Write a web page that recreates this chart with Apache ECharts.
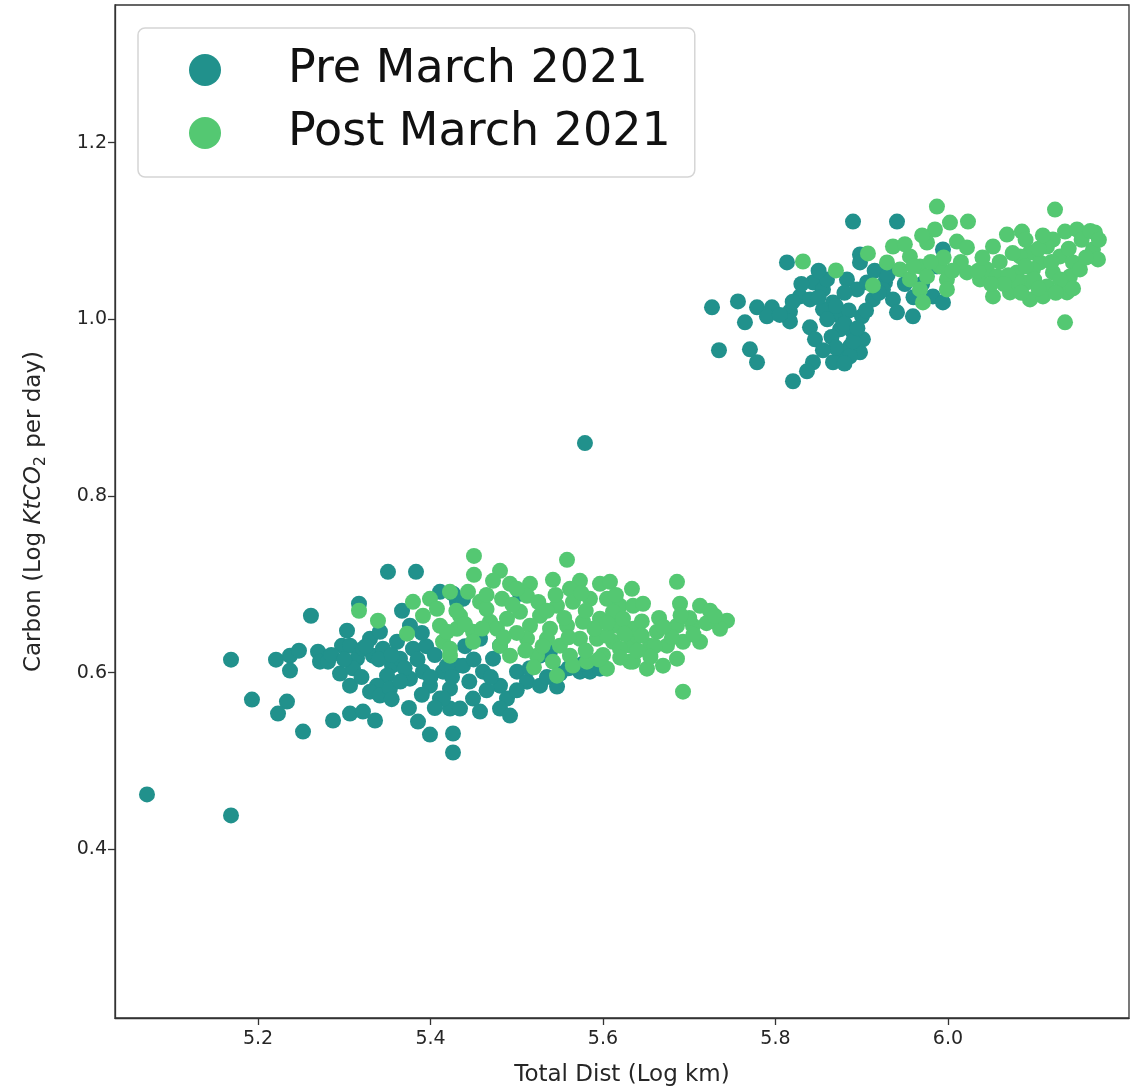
<!DOCTYPE html>
<html>
<head>
<meta charset="utf-8">
<script src="https://cdn.jsdelivr.net/npm/echarts@6/dist/echarts.min.js"></script>
<style>
  html, body { margin: 0; padding: 0; background: #fff; }
  #chart { width: 1138px; height: 1092px; }
</style>
</head>
<body>
<div id="chart"></div>
<script>
// Daily log distance travelled vs. log carbon emitted, split by period.
const seriesNames = ['Pre March 2021', 'Post March 2021'];
const xTicks = [5.2, 5.4, 5.6, 5.8, 6.0];
const yTicks = [0.4, 0.6, 0.8, 1.0, 1.2];

// [log km, log ktCO2 per day]
const preMarch = [
  [5.0713,0.4621],[5.1687,0.4384],[5.5791,0.8599],
  [5.1687,0.6147],[5.2209,0.6147],[5.2371,0.6192],[5.2475,0.6249],[5.2371,0.6023],
  [5.2696,0.6237],[5.2719,0.6124],[5.2812,0.6124],[5.3032,0.6475],[5.2974,0.6305],
  [5.3067,0.6305],[5.2951,0.5989],[5.3067,0.5853],[5.3148,0.6158],[5.3217,0.6271],
  [5.3299,0.6384],[5.3333,0.6192],[5.3414,0.6463],[5.3449,0.6271],[5.3554,0.6079],
  [5.3496,0.5966],[5.3380,0.5853],[5.3299,0.5785],[5.3414,0.5740],[5.3530,0.5819],
  [5.3646,0.6158],[5.3612,0.6350],[5.3670,0.6701],[5.3762,0.6531],[5.3797,0.6271],
  [5.3762,0.5932],[5.3913,0.6011],[5.3994,0.5853],[5.4110,0.5706],[5.4226,0.5819],
  [5.4145,0.6011],[5.4307,0.6079],[5.4226,0.5593],[5.1930,0.5695],[5.2336,0.5672],
  [5.2232,0.5537],[5.2522,0.5333],[5.2870,0.5458],[5.3067,0.5537],[5.3217,0.5559],
  [5.3357,0.5458],[5.3855,0.5446],[5.3994,0.5299],[5.4261,0.5311],[5.4261,0.5096],
  [5.4110,0.6915],[5.4307,0.6802],[5.3507,0.7141],[5.3832,0.7141],[5.2614,0.6644],
  [5.3171,0.6780],
  [5.5038,0.6893],[5.4261,0.6893],[5.4377,0.6836],[5.4191,0.6079],[5.4377,0.6079],
  [5.4609,0.6011],[5.4725,0.6158],[5.5003,0.6011],[5.5119,0.5898],[5.5270,0.5853],
  [5.5467,0.5842],[5.5733,0.6011],[5.5849,0.6011],[5.4806,0.5853],[5.4887,0.5706],
  [5.4493,0.5706],[5.4342,0.5593],[5.4145,0.5706],[5.4574,0.5559],[5.4806,0.5593],
  [5.4922,0.5514],[5.5501,0.5989],[5.5965,0.6045],[5.5768,0.6102],
  [5.4574,0.6384],[5.4806,0.6305],[5.5270,0.6192],[5.5386,0.6237],
  [5.3250,0.6300],[5.3400,0.6150],[5.3550,0.6200],[5.3700,0.6050],[5.3850,0.6150],
  [5.3950,0.6300],[5.3900,0.6450],[5.4050,0.6200],[5.4000,0.5950],[5.3650,0.5900],
  [5.3550,0.5700],[5.3900,0.5750],[5.4250,0.5950],[5.4450,0.5900],[5.4650,0.5800],
  [5.4500,0.6150],[5.4400,0.6300],[5.3100,0.6050],[5.2850,0.6200],[5.3000,0.6150],
  [5.3200,0.5950],[5.4050,0.5600],[5.3750,0.5600],[5.5150,0.6050],[5.5350,0.5950],
  [5.5600,0.6050],[5.4700,0.5950],[5.5000,0.5800],
  [5.8899,1.1107],[5.9409,1.1107],[5.8133,1.0644],[5.8980,1.0734],[5.8980,1.0644],
  [5.7264,1.0136],[5.7565,1.0203],[5.7646,0.9966],[5.7786,1.0136],[5.7959,1.0136],
  [5.7901,1.0034],[5.8168,1.0090],[5.8168,0.9977],[5.8284,1.0260],[5.8435,1.0418],
  [5.8400,1.0226],[5.8551,1.0339],[5.8597,1.0452],[5.8667,1.0192],[5.8632,1.0079],
  [5.8748,1.0034],[5.8829,1.0452],[5.8945,1.0339],[5.9061,1.0418],[5.9130,1.0226],
  [5.9270,1.0418],[5.9362,1.0226],[5.8400,0.9910],[5.8458,0.9774],[5.8748,0.9887],
  [5.8899,0.9853],[5.9014,0.9774],[5.8864,0.9695],[5.8980,0.9627],[5.8748,0.9582],
  [5.8667,0.9514],[5.8864,0.9582],[5.8435,0.9514],[5.8365,0.9412],[5.8203,0.9299],
  [5.7345,0.9650],[5.7704,0.9661],[5.7786,0.9514],[5.9003,1.0034],[5.8551,1.0113],
  [5.9942,1.0791],[5.9872,1.0599],[5.9293,1.0599],[5.9246,1.0339],[5.9409,1.0079],
  [5.9594,1.0034],[5.9826,1.0260],[5.9942,1.0192],
  [5.8500,1.0250],[5.8600,1.0000],[5.8700,1.0150],[5.8800,1.0300],[5.8850,1.0100],
  [5.8800,0.9950],[5.8650,0.9800],[5.8700,0.9680],[5.8900,0.9750],[5.8950,0.9900],
  [5.9050,1.0100],[5.9200,1.0300],[5.9150,1.0550],[5.9300,1.0500],[5.9500,1.0400],
  [5.9600,1.0250],[5.9700,1.0400],[5.8500,1.0550],[5.8300,1.0400],[5.8200,1.0200],
  [5.8050,1.0050],[5.8550,0.9650],[5.8800,0.9500]
];

const postMarch = [
  [5.3171,0.6701],[5.3391,0.6588],[5.3728,0.6441],[5.3797,0.6802],[5.3994,0.6836],
  [5.4226,0.6915],[5.3913,0.6644],[5.4110,0.6531],[5.4145,0.6350],[5.4226,0.6192],
  [5.4307,0.6497],[5.4075,0.6723],
  [5.4504,0.7322],[5.4504,0.7107],[5.4806,0.7153],[5.4725,0.7040],[5.4922,0.7006],
  [5.5154,0.7006],[5.5420,0.7051],[5.5583,0.7277],[5.5733,0.7040],[5.5617,0.6949],
  [5.5965,0.7006],[5.6081,0.7028],[5.6336,0.6949],[5.4435,0.6915],[5.4574,0.6802],
  [5.4829,0.6836],[5.5119,0.6870],[5.4342,0.6644],[5.4690,0.6576],[5.4887,0.6610],
  [5.5038,0.6689],[5.5270,0.6644],[5.5467,0.6757],[5.5652,0.6802],[5.5849,0.6836],
  [5.6046,0.6836],[5.6197,0.6757],[5.6348,0.6757],[5.4191,0.6463],[5.4493,0.6463],
  [5.4771,0.6497],[5.5154,0.6531],[5.5386,0.6497],[5.5583,0.6531],[5.5768,0.6576],
  [5.5965,0.6610],[5.6162,0.6531],[5.6348,0.6497],[5.4226,0.6271],[5.4493,0.6350],
  [5.4806,0.6305],[5.5119,0.6384],[5.5351,0.6384],[5.5501,0.6305],[5.5733,0.6384],
  [5.5930,0.6384],[5.6116,0.6350],[5.6313,0.6305],[5.4922,0.6192],[5.5235,0.6192],
  [5.5420,0.6124],[5.5617,0.6192],[5.5814,0.6124],[5.6046,0.6045],[5.6313,0.6124],
  [5.5467,0.5966],
  [5.6858,0.7028],[5.6464,0.6780],[5.6893,0.6780],[5.7125,0.6757],[5.7241,0.6701],
  [5.7438,0.6588],[5.7357,0.6497],[5.6116,0.6689],[5.6232,0.6610],[5.6046,0.6418],
  [5.6394,0.6418],[5.6626,0.6463],[5.6858,0.6531],[5.7043,0.6531],[5.7125,0.6350],
  [5.6928,0.6350],[5.6742,0.6305],[5.6545,0.6305],[5.6197,0.6271],[5.6348,0.6124],
  [5.6510,0.6045],[5.6696,0.6079],[5.6858,0.6158],[5.6928,0.5785],
  [5.4650,0.6720],[5.4950,0.6770],[5.5250,0.6800],[5.5350,0.6700],[5.5550,0.6620],
  [5.5800,0.6700],[5.5900,0.6500],[5.6050,0.6560],[5.6250,0.6440],[5.6450,0.6580],
  [5.6600,0.6300],[5.6650,0.6620],[5.6800,0.6400],[5.7000,0.6620],[5.7200,0.6560],
  [5.7050,0.6430],[5.6550,0.6180],[5.6400,0.6250],[5.6200,0.6170],[5.6000,0.6200],
  [5.5800,0.6250],[5.5600,0.6400],[5.5300,0.6300],[5.5100,0.6250],[5.5000,0.6450],
  [5.4850,0.6400],[5.4600,0.6500],[5.4400,0.6550],[5.4300,0.6700],[5.5200,0.6060],
  [5.5650,0.6080],[5.5950,0.6150],[5.6450,0.6420],[5.6700,0.6520],[5.6900,0.6650],
  [5.7300,0.6640],[5.6150,0.6880],[5.5750,0.6900],[5.5450,0.6880],[5.5000,0.6950],
  [5.4650,0.6880],
  [5.8319,1.0655],[5.8701,1.0554],[5.9072,1.0746],[5.9130,1.0384],[5.9362,1.0825],
  [5.9293,1.0644],
  [5.9872,1.1277],[6.0023,1.1096],[6.0232,1.1107],[5.9849,1.1017],[5.9757,1.0870],
  [6.0104,1.0881],[6.0220,1.0814],[5.9559,1.0712],[5.9675,1.0599],[5.9443,1.0565],
  [5.9559,1.0452],[5.9757,1.0486],[5.9907,1.0599],[5.9988,1.0452],[5.9675,1.0339],
  [5.9988,1.0339],[5.9710,1.0192],[6.0220,1.0531],[6.0371,1.0452],[6.0452,1.0565],
  [6.0568,1.0486],[6.0522,1.0825],[6.0684,1.0960],[6.0858,1.0994],[6.1241,1.1243],
  [6.1357,1.0994],[6.1496,1.1017],[6.1704,1.0983],[6.1681,1.0791],[6.1739,1.0678],
  [6.1217,1.0904],[6.1148,1.0825],[6.0951,1.0757],[6.0835,1.0712],[6.1067,1.0644],
  [6.1299,1.0712],[6.1449,1.0644],[6.0800,1.0531],[6.0986,1.0565],[6.1217,1.0531],
  [6.1414,1.0486],[6.0916,1.0418],[6.1148,1.0373],[6.1333,1.0373],[6.0522,1.0260],
  [6.0719,1.0305],[6.0951,1.0226],[6.1101,1.0260],[6.1380,1.0305],[6.1357,0.9966],
  [6.0800,1.0418],[6.1530,1.0565],
  [6.0600,1.0650],[6.0700,1.0500],[6.0750,1.0750],[6.0900,1.0600],[6.1000,1.0450],
  [6.1050,1.0800],[6.1200,1.0650],[6.1300,1.0450],[6.1400,1.0800],[6.1550,1.0900],
  [6.1600,1.0700],[6.1450,1.0350],[6.1250,1.0300],[6.1050,1.0350],[6.0850,1.0300],
  [6.0650,1.0400],[6.0500,1.0400],[6.0350,1.0550],[6.0150,1.0650],[6.0050,1.0550],
  [5.9950,1.0700],[5.9800,1.0650],[5.9600,1.0600],[5.9500,1.0850],[6.0400,1.0700],
  [6.1650,1.1000],[6.1750,1.0900],[6.1100,1.0950],[6.0900,1.0900],[5.9700,1.0950]
];

const colors = ['#21918c', '#54c872'];
const font = '"DejaVu Sans", sans-serif';

const chart = echarts.init(document.getElementById('chart'), null, { renderer: 'canvas' });
chart.setOption({
  animation: false,
  backgroundColor: '#fff',
  color: colors,
  grid: {
    left: 115, right: 9, top: 5, bottom: 59,
    show: true, borderColor: '#333', borderWidth: 1.3, backgroundColor: '#fff'
  },
  legend: {
    orient: 'vertical',
    left: 138, top: 28,
    data: seriesNames,
    icon: 'circle',
    itemWidth: 32, itemHeight: 32,
    itemGap: 13,
    padding: [17, 24, 19, 51],
    borderColor: '#d5d5d5', borderWidth: 1.5, borderRadius: 7,
    backgroundColor: '#fff',
    textStyle: { fontFamily: font, fontSize: 46, color: '#111', lineHeight: 50, padding: [0, 0, 0, 62] }
  },
  xAxis: {
    type: 'value',
    min: 5.0342, max: 6.2099,
    name: 'Total Dist (Log km)',
    nameLocation: 'middle', nameGap: 46,
    nameTextStyle: { fontFamily: font, fontSize: 23, color: '#262626' },
    splitLine: { show: false },
    axisLine: { lineStyle: { color: '#333', width: 1.3 } },
    axisTick: { length: 7, lineStyle: { color: '#333', width: 1.3 }, customValues: xTicks },
    axisLabel: {
      fontFamily: font, fontSize: 19, color: '#262626', margin: 12,
      customValues: xTicks,
      formatter: v => v.toFixed(1)
    }
  },
  yAxis: {
    type: 'value',
    min: 0.2090, max: 1.3559,
    name: '{a|Carbon (Log }{i|KtCO}{s|2}{a| per day)}',
    nameLocation: 'middle', nameGap: 66, nameRotate: 90,
    nameTextStyle: {
      fontFamily: font, fontSize: 23, color: '#262626',
      rich: {
        a: { fontFamily: font, fontSize: 23, color: '#262626', lineHeight: 30 },
        i: { fontFamily: font, fontSize: 23, fontStyle: 'italic', color: '#262626', lineHeight: 30 },
        s: { fontFamily: font, fontSize: 16, color: '#262626', lineHeight: 30, verticalAlign: 'bottom', padding: [0, 1, 0, 0] }
      }
    },
    splitLine: { show: false },
    axisLine: { lineStyle: { color: '#333', width: 1.3 } },
    axisTick: { length: 7, lineStyle: { color: '#333', width: 1.3 }, customValues: yTicks },
    axisLabel: {
      fontFamily: font, fontSize: 19, color: '#262626', margin: 8,
      customValues: yTicks,
      formatter: v => v.toFixed(1)
    }
  },
  series: [
    {
      name: seriesNames[0], type: 'scatter', data: preMarch,
      symbolSize: 16, itemStyle: { color: colors[0], opacity: 1 }, z: 2
    },
    {
      name: seriesNames[1], type: 'scatter', data: postMarch,
      symbolSize: 16, itemStyle: { color: colors[1], opacity: 1 }, z: 3
    }
  ]
});
</script>
</body>
</html>
